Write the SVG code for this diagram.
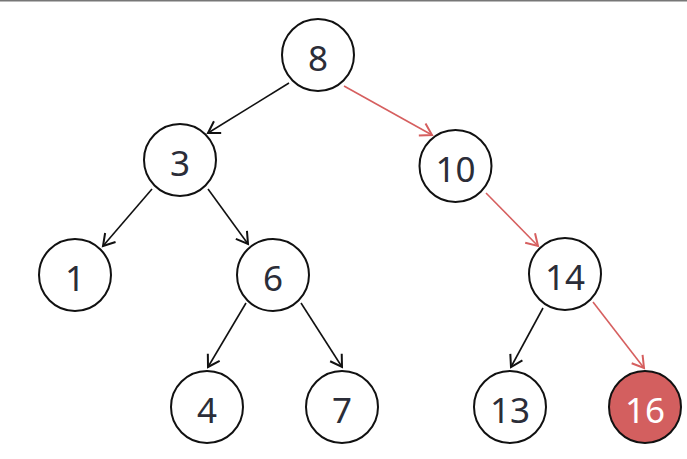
<svg xmlns="http://www.w3.org/2000/svg" width="687" height="459" viewBox="0 0 687 459">
<style>
.node circle{fill:#fff;stroke:#111;stroke-width:2}
.node text{font-family:"Source Sans Pro","Noto Sans","Open Sans",sans-serif;font-size:35px;fill:#2b2d38;text-anchor:middle;dominant-baseline:central}
.hl circle{fill:#d35f5f}
.hl text{fill:#fff}
.e{stroke:#111;stroke-width:1.6;fill:none;marker-end:url(#ab)}
.r{stroke:#d65f5f;marker-end:url(#ar)}
</style>
<defs>
<marker id="ab" markerUnits="userSpaceOnUse" markerWidth="20" markerHeight="20" viewBox="-12 -8 16 16" refX="0" refY="0" orient="auto">
<path d="M-9,-5.5 L0,0 L-9,5.5" fill="none" stroke="#111" stroke-width="1.6"/>
</marker>
<marker id="ar" markerUnits="userSpaceOnUse" markerWidth="20" markerHeight="20" viewBox="-12 -8 16 16" refX="0" refY="0" orient="auto">
<path d="M-9,-5.5 L0,0 L-9,5.5" fill="none" stroke="#d65f5f" stroke-width="1.6"/>
</marker>
</defs>
<rect x="0" y="0" width="687" height="1.5" fill="#777"/>
<g id="edges">
<line class="e" x1="289" y1="83" x2="208" y2="133"/>
<line class="e r" x1="344" y1="86" x2="432" y2="135"/>
<line class="e" x1="152" y1="189" x2="103" y2="246"/>
<line class="e" x1="208" y1="189" x2="248" y2="244"/>
<line class="e r" x1="486" y1="193" x2="538" y2="246"/>
<line class="e" x1="246" y1="303" x2="208" y2="367"/>
<line class="e" x1="301" y1="303" x2="342" y2="367"/>
<line class="e" x1="543" y1="308" x2="511" y2="367"/>
<line class="e r" x1="593" y1="302" x2="644" y2="368"/>
</g>
<g id="n8" class="node"><circle cx="318" cy="55" r="36"/><text x="318" y="57">8</text></g>
<g id="n3" class="node"><circle cx="180" cy="160" r="36"/><text x="180" y="162">3</text></g>
<g id="n10" class="node"><circle cx="455.5" cy="166" r="36"/><text x="455.5" y="168">10</text></g>
<g id="n1" class="node"><circle cx="75" cy="275" r="36"/><text x="75" y="277">1</text></g>
<g id="n6" class="node"><circle cx="273" cy="275" r="36"/><text x="273" y="277">6</text></g>
<g id="n14" class="node"><circle cx="565" cy="274" r="36"/><text x="565" y="276">14</text></g>
<g id="n4" class="node"><circle cx="207" cy="407" r="36"/><text x="207" y="409">4</text></g>
<g id="n7" class="node"><circle cx="342" cy="407" r="36"/><text x="342" y="409">7</text></g>
<g id="n13" class="node"><circle cx="510" cy="407" r="36"/><text x="510" y="409">13</text></g>
<g id="n16" class="node hl"><circle cx="645" cy="407" r="36"/><text x="645" y="409">16</text></g>
</svg>
